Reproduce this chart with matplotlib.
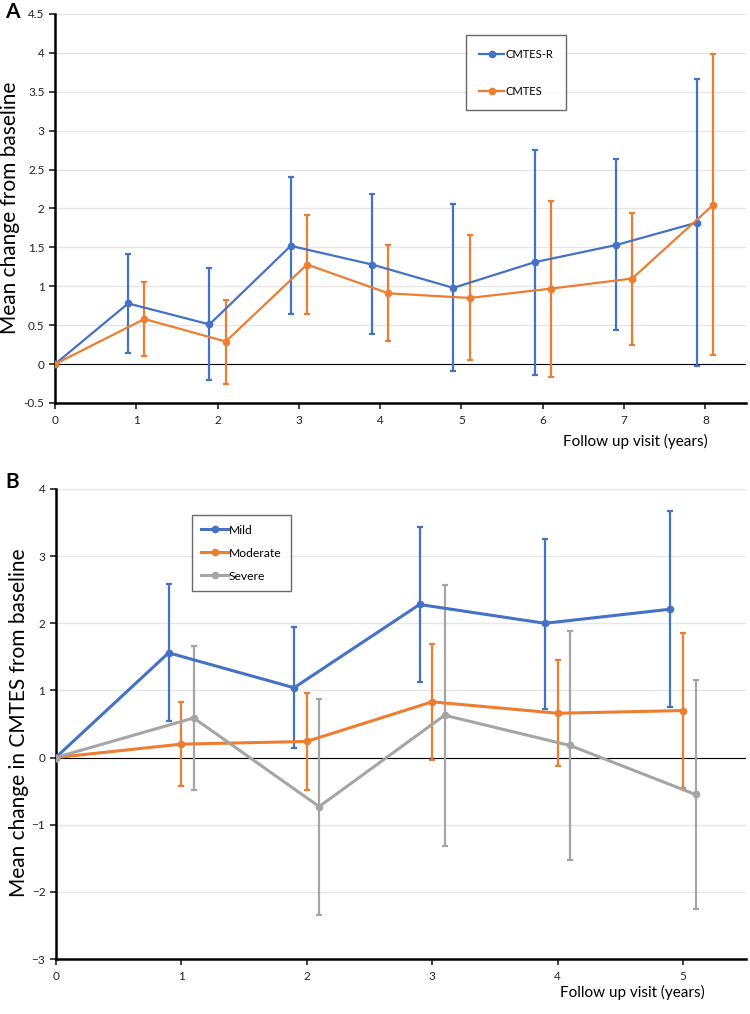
import numpy as np
import matplotlib
matplotlib.use("Agg")
import matplotlib.pyplot as plt

plt.rcParams['font.family'] = ['Lato', 'DejaVu Sans']

# panel A data
years_a = [0, 1, 2, 3, 4, 5, 6, 7, 8]
cmtes_r = [0, 0.78, 0.51, 1.52, 1.28, 0.98, 1.31, 1.53, 1.82]
cmtes_r_lo = [0, 0.14, -0.20, 0.65, 0.39, -0.09, -0.14, 0.44, -0.03]
cmtes_r_hi = [0, 1.42, 1.23, 2.40, 2.18, 2.06, 2.75, 2.63, 3.67]
cmtes = [0, 0.58, 0.29, 1.28, 0.91, 0.85, 0.97, 1.10, 2.05]
cmtes_lo = [0, 0.10, -0.26, 0.65, 0.30, 0.05, -0.16, 0.25, 0.12]
cmtes_hi = [0, 1.06, 0.83, 1.92, 1.53, 1.66, 2.10, 1.94, 3.99]

# panel B data
years_b = [0, 1, 2, 3, 4, 5]
mild = [0, 1.56, 1.04, 2.28, 2.00, 2.21]
mild_lo = [0, 0.55, 0.14, 1.13, 0.73, 0.76]
mild_hi = [0, 2.58, 1.94, 3.44, 3.26, 3.67]
moderate = [0, 0.20, 0.24, 0.83, 0.66, 0.70]
moderate_lo = [0, -0.43, -0.48, -0.03, -0.13, -0.46]
moderate_hi = [0, 0.83, 0.96, 1.69, 1.45, 1.86]
severe = [0, 0.59, -0.73, 0.63, 0.18, -0.55]
severe_lo = [0, -0.48, -2.35, -1.32, -1.52, -2.26]
severe_hi = [0, 1.66, 0.87, 2.57, 1.88, 1.16]

BLUE = '#4472C4'
ORANGE = '#ED7D31'
GRAY = '#A5A5A5'


def shifted(xs, dx):
    x = np.array(xs, dtype=float)
    x[1:] += dx
    return x


def series(ax, xs, ys, lo, hi, dx, color, label, lw):
    x = shifted(xs, dx)
    y = np.array(ys)
    err = [y - np.array(lo), np.array(hi) - y]
    ax.errorbar(x[1:], y[1:], yerr=[err[0][1:], err[1][1:]], fmt='none',
                ecolor=color, elinewidth=1.6, capsize=2.5, capthick=1.6, zorder=3)
    ax.plot(x, y, '-o', color=color, lw=lw, ms=4.5, label=label, zorder=4)


def style(ax):
    for s in ['top', 'right']:
        ax.spines[s].set_visible(False)
    ax.spines['left'].set_linewidth(1.8)
    ax.spines['bottom'].set_linewidth(1.8)
    ax.grid(axis='y', color='#e6e6e6', lw=1)
    ax.set_axisbelow(True)
    ax.axhline(0, color='black', lw=0.8, zorder=2)
    ax.tick_params(axis='both', direction='out', length=4, width=1.2, labelsize=8.5, colors='#222222')
    ax.tick_params(axis='x', pad=5)


fig = plt.figure(figsize=(7.5, 10.14), dpi=100)

axA = fig.add_axes([55 / 750, 1 - 403 / 1014, 691 / 750, 389 / 1014])
series(axA, years_a, cmtes_r, cmtes_r_lo, cmtes_r_hi, -0.1, BLUE, 'CMTES-R', 1.6)
series(axA, years_a, cmtes, cmtes_lo, cmtes_hi, 0.1, ORANGE, 'CMTES', 1.6)
axA.set_xlim(0, 8.5)
axA.set_ylim(-0.5, 4.5)
axA.set_xticks(years_a)
axA.set_yticks(np.arange(-0.5, 4.51, 0.5))
axA.set_yticklabels(['-0.5', '0', '0.5', '1', '1.5', '2', '2.5', '3', '3.5', '4', '4.5'])
style(axA)
fig.text(10 / 750, 1 - 208 / 1014, 'Mean change from baseline', fontsize=15,
         rotation=90, ha='center', va='center')
axA.text(0.945, -0.10, 'Follow up visit (years)', transform=axA.transAxes,
         ha='right', va='center', fontsize=11)
legA = axA.legend(loc='upper left', bbox_to_anchor=(0.595, 0.945), frameon=True,
                  fancybox=False, edgecolor='#444444', fontsize=8, labelspacing=2.35,
                  handlelength=2.2, handletextpad=0.1, borderpad=1.2, borderaxespad=0)
legA.get_frame().set_linewidth(1.0)
fig.text(5 / 750, 1 - 12 / 1014, 'A', fontsize=15, fontweight='bold', ha='left', va='center')

axB = fig.add_axes([55.7 / 750, 1 - 959 / 1014, 690 / 750, 470 / 1014])
series(axB, years_b, mild, mild_lo, mild_hi, -0.1, BLUE, 'Mild', 2.2)
series(axB, years_b, moderate, moderate_lo, moderate_hi, 0.0, ORANGE, 'Moderate', 2.2)
series(axB, years_b, severe, severe_lo, severe_hi, 0.1, GRAY, 'Severe', 2.2)
axB.set_xlim(0, 5.5)
axB.set_ylim(-3, 4)
axB.set_xticks(years_b)
axB.set_yticks(range(-3, 5))
style(axB)
fig.text(19.5 / 750, 1 - 723 / 1014, 'Mean change in CMTES from baseline', fontsize=15,
         rotation=90, ha='center', va='center')
axB.text(0.941, -0.072, 'Follow up visit (years)', transform=axB.transAxes,
         ha='right', va='center', fontsize=11)
legB = axB.legend(loc='upper left', bbox_to_anchor=(0.197, 0.945), frameon=True,
                  fancybox=False, edgecolor='#444444', fontsize=8.7, labelspacing=1.0,
                  handlelength=2.2, handletextpad=0.1, borderpad=0.8, borderaxespad=0)
legB.get_frame().set_linewidth(1.0)
fig.text(5 / 750, 1 - 482 / 1014, 'B', fontsize=15, fontweight='bold', ha='left', va='center')

fig.savefig('out.png', dpi=100)
